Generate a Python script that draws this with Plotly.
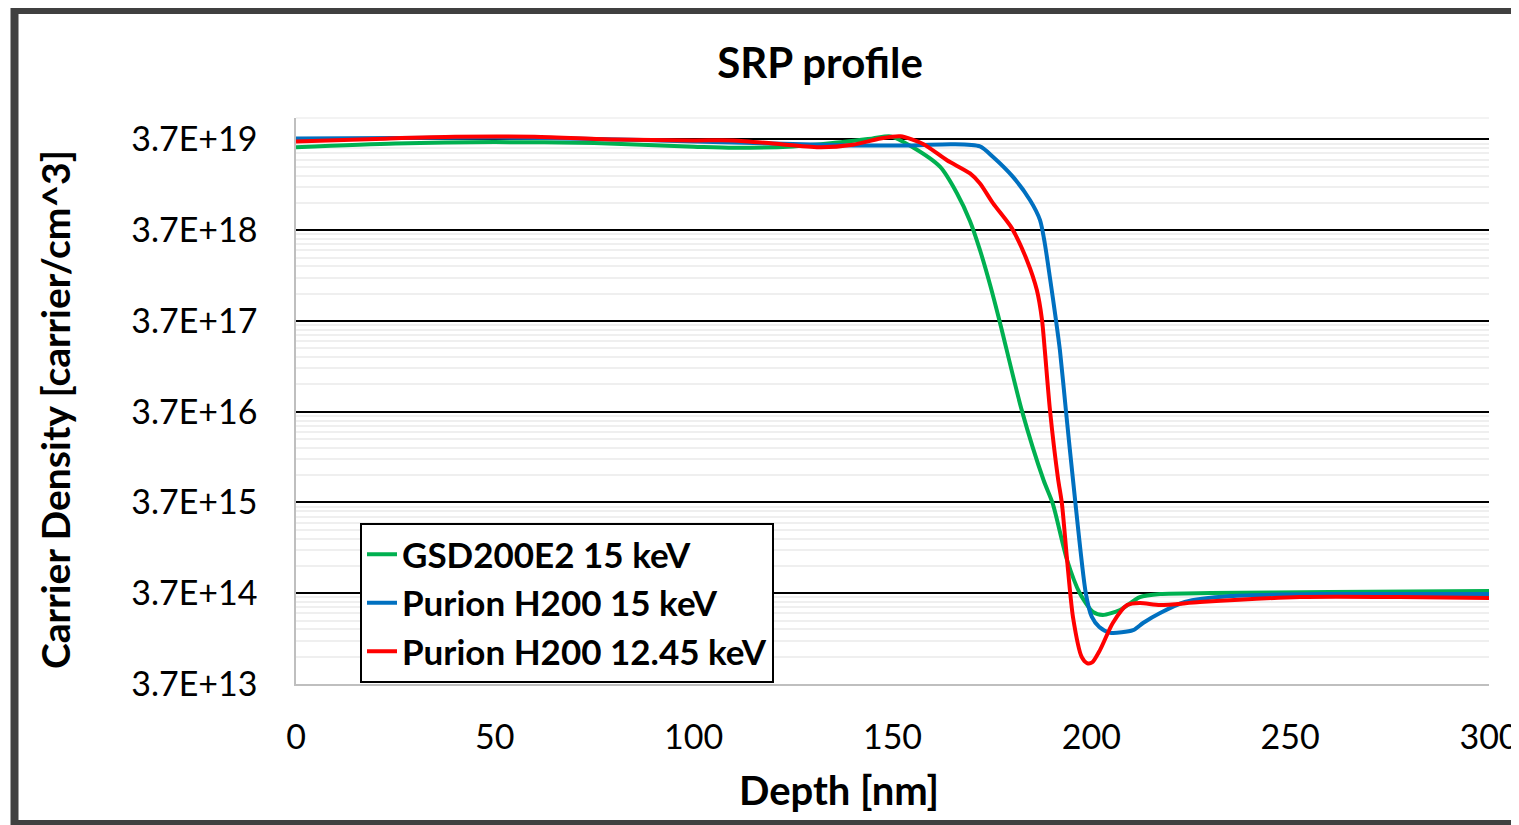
import math
import plotly.graph_objects as go

# ---------------- data ----------------
green_name = "GSD200E2 15 keV"
green_depth = [0, 25, 50, 75, 100, 110, 125, 135, 145, 149.5, 155, 162, 166.2, 169.5, 172, 174.5,
               177, 182.5, 188, 190.3, 193.9, 197.1, 200.4, 202.9, 207.2, 212.2, 217.3, 230, 260, 300]
green_vals = [3.03e19, 3.33e19, 3.46e19, 3.37e19, 3.08e19, 2.99e19, 3.10e19, 3.37e19, 3.79e19, 4.0e19,
              3.05e19, 1.84e19, 9.45e18, 4.65e18, 2.23e18, 9.4e17, 3.59e17, 3.85e16, 6.5e15, 3.6e15,
              8.6e14, 3.7e14, 2.3e14, 2.13e14, 2.42e14, 3.36e14, 3.63e14, 3.72e14, 3.81e14, 3.91e14]

blue_name = "Purion H200 15 keV"
blue_depth = [0, 25, 50, 75, 100, 120, 140, 155, 165, 172, 175.3, 180.3, 184.6, 187.1, 188.3, 189.6,
              191.1, 192.1, 193.6, 195.4, 198.6, 200.1, 202, 204.7, 210.5, 213, 217.3, 223.5, 235, 260, 300]
blue_vals = [3.79e19, 3.84e19, 3.88e19, 3.75e19, 3.52e19, 3.33e19, 3.18e19, 3.18e19, 3.28e19, 3.10e19,
             2.37e19, 1.43e19, 7.9e18, 4.77e18, 2.64e18, 1.1e18, 3.8e17, 1.76e17, 3.85e16, 6.5e15,
             3.72e14, 2.04e14, 1.57e14, 1.36e14, 1.45e14, 1.74e14, 2.24e14, 2.96e14, 3.44e14, 3.63e14, 3.63e14]

red_name = "Purion H200 12.45 keV"
red_depth = [0, 20, 40, 60, 80, 100, 110, 122, 132, 140, 147, 152, 157.7, 163.7, 169.5, 172, 175.3,
             180, 183.8, 186.3, 187.6, 188.3, 189.6, 191.6, 192.6, 193.9, 195.4, 197.6, 198.9, 200.2,
             202.2, 205.4, 209, 212.2, 217.3, 227.3, 252.5, 277.6, 300]
red_vals = [3.52e19, 3.75e19, 3.96e19, 3.96e19, 3.70e19, 3.61e19, 3.61e19, 3.28e19, 3.03e19, 3.23e19,
            3.79e19, 4.0e19, 3.3e19, 2.18e19, 1.56e19, 1.21e19, 7.3e18, 3.9e18, 1.73e18, 8.1e17,
            3.8e17, 1.76e17, 3.85e16, 6.9e15, 3.6e15, 8.6e14, 2.0e14, 7.3e13, 6.3e13, 6.4e13,
            8.8e13, 1.74e14, 2.74e14, 2.89e14, 2.74e14, 2.96e14, 3.36e14, 3.36e14, 3.27e14]

y_tickvals = [3.7e13, 3.7e14, 3.7e15, 3.7e16, 3.7e17, 3.7e18, 3.7e19]
y_ticktext = ["3.7E+13", "3.7E+14", "3.7E+15", "3.7E+16", "3.7E+17", "3.7E+18", "3.7E+19"]
x_tickvals = [0, 50, 100, 150, 200, 250, 300]

title_text = "SRP profile"
x_title = "Depth [nm]"
y_title = "Carrier Density [carrier/cm^3]"

# ---------------- figure ----------------
FONT = "Lato, 'Open Sans', sans-serif"
minor_vals = [v * k for v in y_tickvals for k in range(2, 10)]

fig = go.Figure()
series = [
    (green_name, green_depth, green_vals, "#00B050"),
    (blue_name, blue_depth, blue_vals, "#0070C0"),
    (red_name, red_depth, red_vals, "#FF0000"),
]
for i, (name, xs, ys, col) in enumerate(series):
    fig.add_trace(go.Scatter(
        x=xs, y=ys, name=name, mode="lines", legendgroup=f"g{i}",
        line=dict(color=col, width=4, shape="spline", smoothing=0.7),
    ))

OFF = 8  # page body margin
W, H = 1519 - OFF, 825 - OFF
L = 296 - OFF
T = 118 - OFF
R = W - (1489 - OFF)
B = H - (684 - OFF)
pw, ph = W - L - R, H - T - B


def px2paper_x(px):
    return (px - OFF - L) / pw


def px2paper_y(py):
    return (H - B - (py - OFF)) / ph


fig.update_layout(
    width=W, height=H,
    margin=dict(l=L, r=R, t=T, b=B, autoexpand=False),
    paper_bgcolor="white", plot_bgcolor="white",
    font=dict(family=FONT, color="black", size=34),
    title=dict(text=f"<b>{title_text}</b>", x=(820 - OFF) / W, xref="container", xanchor="center",
               y=1 - (63 - OFF) / H, yref="container", yanchor="middle",
               font=dict(family=FONT, size=42, color="black")),
    showlegend=True,
    legend=dict(
        x=px2paper_x(360), y=px2paper_y(523), xanchor="left", yanchor="top",
        bgcolor="white", bordercolor="black", borderwidth=2,
        font=dict(family=FONT, size=35, color="black", weight="bold"),
        traceorder="grouped", tracegroupgap=0, itemwidth=30,
    ),
    xaxis=dict(
        range=[0, 300], tickvals=x_tickvals, showgrid=False, zeroline=False,
        showline=True, linecolor="#bfbfbf", linewidth=1.5, ticks="",
        ticklabelstandoff=22, tickfont=dict(family=FONT, size=34, color="black"),
    ),
    yaxis=dict(
        type="log",
        range=[math.log10(3.7e13), math.log10(3.7e19) + 0.236],
        tickvals=y_tickvals, ticktext=y_ticktext,
        showgrid=True, gridcolor="black", gridwidth=1.5, zeroline=False,
        showline=True, linecolor="#bfbfbf", linewidth=1.5, ticks="",
        ticklabelstandoff=30, tickfont=dict(family=FONT, size=34, color="black"),
        minor=dict(tickvals=minor_vals, showgrid=True, gridcolor="#efefef", gridwidth=1.5),
    ),
    annotations=[
        dict(text=f"<b>{y_title}</b>", xref="paper", yref="paper",
             x=px2paper_x(55), y=px2paper_y(410), xanchor="center", yanchor="middle",
             textangle=-90, showarrow=False, font=dict(family=FONT, size=39, color="black")),
        dict(text=f"<b>{x_title}</b>", xref="paper", yref="paper",
             x=px2paper_x(839), y=px2paper_y(790), xanchor="center", yanchor="middle",
             showarrow=False, font=dict(family=FONT, size=40, color="black")),
    ],
    shapes=[
        dict(type="line", xref="paper", yref="paper", x0=0, x1=1, y0=1, y1=1,
             line=dict(color="#efefef", width=1.5), layer="below"),
        dict(type="rect", xref="paper", yref="paper",
             x0=px2paper_x(14.5), x1=px2paper_x(1545), y0=px2paper_y(824), y1=px2paper_y(10),
             line=dict(color="#404040", width=8), fillcolor="rgba(0,0,0,0)"),
    ],
)

fig.write_html("out.html")
